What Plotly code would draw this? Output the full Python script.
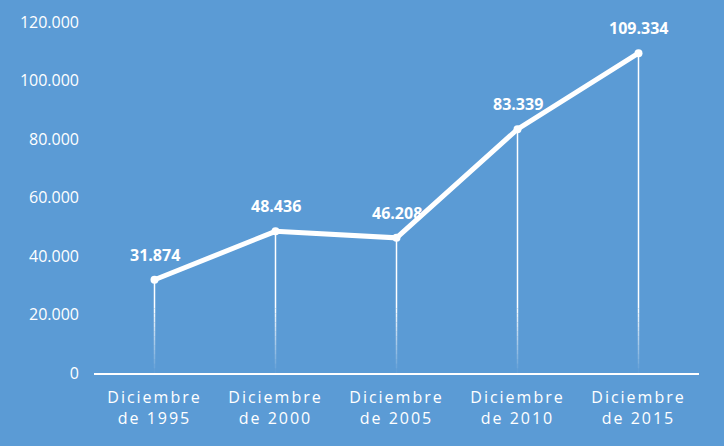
import plotly.graph_objects as go

categories = ["Diciembre<br>de 1995", "Diciembre<br>de 2000", "Diciembre<br>de 2005",
              "Diciembre<br>de 2010", "Diciembre<br>de 2015"]
values = [31874, 48436, 46208, 83339, 109334]
y_ticks = [0, 20000, 40000, 60000, 80000, 100000, 120000]

BG = "#5B9BD5"
FONT = "Open Sans"

fig = go.Figure()

# drop lines from each point to the axis, fading near the bottom
shapes = []
fade_top = 22000
n_steps = 14
for cat, v in zip(categories, values):
    shapes.append(dict(type="line", xref="x", yref="y", x0=cat, x1=cat, y0=fade_top, y1=v,
                       line=dict(color="white", width=1.5), layer="below"))
    for i in range(n_steps):
        y0 = fade_top * i / n_steps
        y1 = fade_top * (i + 1) / n_steps
        op = (i + 0.5) / n_steps
        shapes.append(dict(type="line", xref="x", yref="y", x0=cat, x1=cat, y0=y0, y1=y1,
                           line=dict(color="white", width=1.5), opacity=op, layer="below"))

fig.add_trace(go.Scatter(
    x=categories, y=values, mode="lines+markers",
    line=dict(color="white", width=5),
    marker=dict(color="white", size=8),
    cliponaxis=False,
    hoverinfo="skip",
))

annotations = [
    dict(x=cat, y=v, xref="x", yref="y", text=f"{v:,}".replace(",", "."),
         showarrow=False, yshift=25, xanchor="center", yanchor="middle",
         font=dict(family=FONT, size=16, color="white", weight="bold"))
    for cat, v in zip(categories, values)
]

fig.update_layout(
    width=724, height=446,
    paper_bgcolor=BG, plot_bgcolor=BG,
    margin=dict(l=94, r=25, t=22, b=73),
    showlegend=False,
    separators=",.",
    shapes=shapes,
    annotations=annotations,
    font=dict(family=FONT, color="white"),
)
fig.update_xaxes(
    showgrid=False, zeroline=False, showline=True, linecolor="white", linewidth=2,
    ticks="", tickfont=dict(family=FONT, size=16, color="white"),
    range=[-0.5, 4.5], ticklabelstandoff=9,
)
fig.update_yaxes(
    showgrid=False, zeroline=False, showline=False,
    range=[0, 120000], tickvals=y_ticks, tickformat=",d",
    tickfont=dict(family=FONT, size=16, color="white"),
    ticklabelstandoff=14,
)

post = """
document.body.style.margin='0';
document.querySelectorAll('.xtick text, .xtick tspan').forEach(function(t){t.style.letterSpacing='2px';});
"""
fig.write_html("out.html", post_script=post, config={"displayModeBar": False})
